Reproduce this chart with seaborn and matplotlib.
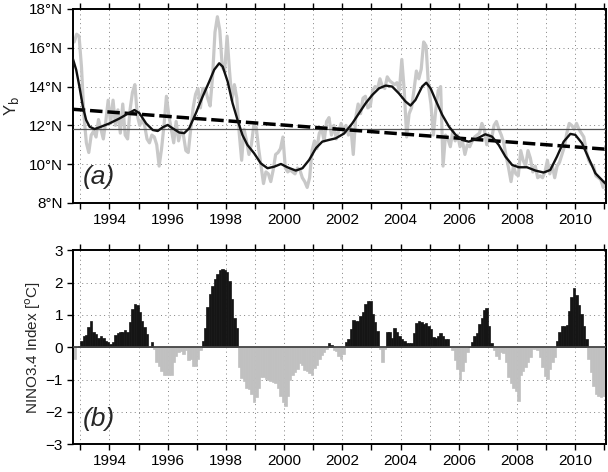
import numpy as np
import pandas as pd
import matplotlib
matplotlib.use("Agg")
import matplotlib.pyplot as plt
from matplotlib.ticker import FixedLocator, FixedFormatter
import seaborn as sns

# ---------------- data ----------------
# Monthly Y_b (deg N), starting Oct 1992
yb_1992 = [16.3, 16.7, 16.6]
yb_1993 = [15.0, 12.5, 11.1, 10.6, 11.5, 11.7, 11.4, 12.3, 11.8, 11.3, 12.2, 13.3]
yb_1994 = [12.1, 13.3, 12.0, 12.8, 11.6, 13.1, 11.5, 11.3, 12.8, 13.7, 14.1, 12.5]
yb_1995 = [12.0, 12.3, 12.0, 11.3, 11.1, 11.5, 11.4, 11.0, 9.9, 10.8, 12.0, 13.5]
yb_1996 = [12.5, 11.8, 11.1, 12.2, 11.2, 11.7, 11.5, 10.7, 10.6, 11.8, 12.9, 13.6]
yb_1997 = [13.9, 12.9, 13.9, 13.9, 13.4, 13.0, 14.5, 16.8, 17.6, 16.9, 15.0, 14.8]
yb_1998 = [16.6, 14.8, 13.3, 14.1, 13.4, 11.6, 10.2, 11.8, 11.2, 10.5, 11.0, 12.0]
yb_1999 = [11.9, 10.8, 9.9, 9.0, 9.6, 9.5, 9.1, 9.7, 10.5, 10.6, 10.8, 11.4]
yb_2000 = [9.8, 9.6, 9.7, 9.6, 9.5, 9.8, 9.7, 9.3, 9.1, 8.8, 9.3, 10.7]
yb_2001 = [11.2, 10.8, 11.6, 11.8, 11.2, 12.2, 12.4, 11.5, 12.0, 11.3, 11.7, 12.1]
yb_2002 = [11.7, 12.0, 11.5, 11.9, 10.5, 12.4, 13.1, 12.6, 13.4, 13.5, 12.9, 13.0]
yb_2003 = [13.8, 14.0, 13.9, 14.4, 14.0, 13.9, 14.5, 14.3, 14.2, 14.1, 14.2, 13.8]
yb_2004 = [15.4, 13.8, 11.4, 12.6, 12.9, 13.8, 14.8, 14.4, 14.9, 16.3, 16.1, 14.0]
yb_2005 = [13.1, 11.5, 12.8, 13.8, 14.0, 9.9, 11.5, 11.3, 10.9, 11.7, 11.2, 11.5]
yb_2006 = [10.9, 11.2, 10.5, 11.0, 10.9, 11.2, 11.4, 11.5, 11.6, 12.1, 11.8, 11.0]
yb_2007 = [11.5, 11.3, 12.0, 12.2, 11.8, 11.5, 11.1, 10.4, 9.8, 9.1, 9.9, 9.5]
yb_2008 = [9.4, 10.7, 10.2, 9.9, 10.7, 10.3, 9.6, 9.9, 9.3, 9.4, 9.3, 9.6]
yb_2009 = [10.2, 9.5, 9.95, 9.3, 9.9, 10.1, 10.5, 10.9, 11.6, 12.1, 12.0, 11.8]
yb_2010 = [12.1, 11.8, 11.6, 11.4, 10.7, 10.2, 10.0, 9.9, 9.4, 9.3, 9.2, 8.8]
yb_2011 = [8.9]
yb_start = 1992.75  # Oct 1992

# Smoothed Y_b
smooth_years = [1992.74, 1992.86, 1992.97, 1993.09, 1993.2, 1993.32, 1993.49, 1993.66,
                1994.0, 1994.34, 1994.63, 1994.86, 1995.03, 1995.26, 1995.49, 1995.66,
                1995.83, 1996.0, 1996.17, 1996.4, 1996.57, 1996.74, 1996.97, 1997.2,
                1997.43, 1997.6, 1997.77, 1997.89, 1998.06, 1998.23, 1998.4, 1998.57,
                1998.74, 1998.97, 1999.2, 1999.43, 1999.66, 1999.89, 2000.11, 2000.4,
                2000.63, 2000.86, 2001.09, 2001.31, 2001.54, 2001.77, 2002.06, 2002.34,
                2002.57, 2002.8, 2003.03, 2003.26, 2003.49, 2003.71, 2003.94, 2004.17,
                2004.34, 2004.51, 2004.74, 2004.88, 2005.03, 2005.2, 2005.43, 2005.66,
                2005.89, 2006.11, 2006.34, 2006.57, 2006.91, 2007.14, 2007.37, 2007.6,
                2007.83, 2008.06, 2008.34, 2008.63, 2008.91, 2009.14, 2009.37, 2009.6,
                2009.83, 2010.0, 2010.23, 2010.46, 2010.69, 2010.91, 2011.03]
smooth_vals = [15.46, 14.86, 14.0, 12.96, 12.28, 11.93, 11.81, 11.9,
               12.1, 12.35, 12.6, 12.79, 12.63, 12.1, 11.76, 11.71,
               11.9, 12.02, 11.85, 11.63, 11.6, 11.85, 12.63, 13.48,
               14.26, 14.87, 15.2, 15.03, 14.26, 13.14, 12.28, 11.5,
               10.99, 10.56, 10.04, 9.79, 9.87, 10.01, 9.84, 9.67,
               9.79, 10.22, 10.82, 11.16, 11.25, 11.33, 11.58, 12.1,
               12.62, 13.14, 13.57, 13.91, 14.05, 14.0, 13.65, 13.23,
               13.02, 13.31, 14.0, 14.2, 13.91, 13.31, 12.54, 11.94,
               11.51, 11.25, 11.16, 11.28, 11.54, 11.42, 10.99, 10.39,
               9.96, 9.84, 9.84, 9.67, 9.57, 9.7, 10.39, 11.16,
               11.56, 11.51, 11.08, 10.3, 9.53, 9.19, 9.0]

trend_years = [1992.74, 2011.06]
trend_vals = [12.83, 10.77]
yb_mean = 11.8

# Monthly NINO3.4 index (deg C), starting Oct 1992
nino_1992 = [-0.36, 0.02, 0.05]
nino_1993 = [0.2, 0.36, 0.38, 0.62, 0.82, 0.46, 0.42, 0.3, 0.34, 0.28, 0.2, 0.15]
nino_1994 = [0.1, 0.17, 0.38, 0.43, 0.46, 0.46, 0.53, 0.46, 0.77, 1.18, 1.34, 1.29]
nino_1995 = [1.08, 0.82, 0.62, 0.41, 0.02, 0.15, -0.05, -0.46, -0.57, -0.72, -0.87, -0.85]
nino_1996 = [-0.85, -0.87, -0.46, -0.26, -0.15, -0.13, -0.2, -0.1, -0.38, -0.36, -0.57, -0.59]
nino_1997 = [-0.36, -0.1, 0.2, 0.6, 1.23, 1.65, 1.9, 2.1, 2.26, 2.4, 2.43, 2.38]
nino_1998 = [2.31, 2.06, 1.5, 0.9, 0.6, -0.6, -0.95, -1.03, -1.25, -1.3, -1.45, -1.7]
nino_1999 = [-1.55, -1.25, -0.93, -0.93, -0.98, -1.0, -1.05, -1.08, -1.1, -1.25, -1.5, -1.7]
nino_2000 = [-1.82, -1.5, -1.0, -0.85, -0.77, -0.67, -0.5, -0.55, -0.7, -0.75, -0.8, -0.87]
nino_2001 = [-0.65, -0.55, -0.35, -0.25, -0.15, -0.05, 0.13, 0.06, -0.08, -0.12, -0.28, -0.36]
nino_2002 = [-0.2, 0.15, 0.26, 0.57, 0.85, 0.82, 0.82, 0.98, 1.1, 1.35, 1.44, 1.44]
nino_2003 = [1.03, 0.77, 0.51, -0.07, -0.46, -0.07, 0.46, 0.46, 0.3, 0.59, 0.46, 0.36]
nino_2004 = [0.24, 0.2, 0.13, 0.13, 0.13, 0.45, 0.75, 0.82, 0.79, 0.72, 0.74, 0.67]
nino_2005 = [0.57, 0.31, 0.28, 0.35, 0.43, 0.35, 0.26, 0.24, 0.0, -0.1, -0.4, -0.67]
nino_2006 = [-1.0, -0.75, -0.46, -0.15, 0.0, 0.15, 0.36, 0.45, 0.72, 0.9, 1.15, 1.2]
nino_2007 = [0.65, 0.12, -0.1, -0.26, -0.36, -0.15, -0.18, -0.46, -0.92, -1.1, -1.25, -1.35]
nino_2008 = [-1.66, -0.85, -0.75, -0.6, -0.45, -0.3, -0.07, -0.07, -0.1, -0.3, -0.6, -0.9]
nino_2009 = [-0.97, -0.66, -0.45, -0.3, 0.2, 0.46, 0.67, 0.67, 0.68, 1.13, 1.54, 1.83]
nino_2010 = [1.6, 1.29, 1.03, 0.67, 0.26, -0.36, -0.77, -1.2, -1.44, -1.5, -1.54, -1.5]
nino_start = 1992.75  # Oct 1992

year_ticks = list(range(1993, 2012))
year_labels = [str(y) if y % 2 == 0 else "" for y in year_ticks]
yb_ticks = [8, 10, 12, 14, 16, 18]
yb_ticklabels = ["8°N", "10°N", "12°N", "14°N", "16°N", "18°N"]
nino_ticks = [-3, -2, -1, 0, 1, 2, 3]

# ---------------- assemble ----------------
yb = np.concatenate([yb_1992, yb_1993, yb_1994, yb_1995, yb_1996, yb_1997, yb_1998,
                     yb_1999, yb_2000, yb_2001, yb_2002, yb_2003, yb_2004, yb_2005,
                     yb_2006, yb_2007, yb_2008, yb_2009, yb_2010, yb_2011])
yb_t = yb_start + (np.arange(len(yb)) + 0.5) / 12.0
df_yb = pd.DataFrame({"t": yb_t, "v": yb})
df_sm = pd.DataFrame({"t": smooth_years, "v": smooth_vals})
df_tr = pd.DataFrame({"t": trend_years, "v": trend_vals})

nino = np.concatenate([nino_1992, nino_1993, nino_1994, nino_1995, nino_1996, nino_1997,
                       nino_1998, nino_1999, nino_2000, nino_2001, nino_2002, nino_2003,
                       nino_2004, nino_2005, nino_2006, nino_2007, nino_2008, nino_2009,
                       nino_2010])
nino_t = nino_start + (np.arange(len(nino)) + 0.5) / 12.0

# ---------------- style ----------------
sns.set_style("white")
plt.rcParams["font.family"] = ["Liberation Sans", "DejaVu Sans"]
plt.rcParams["axes.unicode_minus"] = True

fig = plt.figure(figsize=(6.08, 4.72), dpi=100)
ax1 = fig.add_axes([0.1196, 0.570, 0.8774, 0.411])
ax2 = fig.add_axes([0.1196, 0.0587, 0.8774, 0.4113])

xlim = (1992.74, 2011.06)
grid_kw = dict(color="#808080", lw=0.7, ls=(0, (1, 3.5)), zorder=0)

def style_axes(ax):
    ax.set_xlim(*xlim)
    ax.xaxis.set_major_locator(FixedLocator(year_ticks))
    ax.xaxis.set_major_formatter(FixedFormatter(year_labels))
    ax.tick_params(axis="both", which="major", direction="out", length=4, width=1.0,
                   labelsize=11, colors="black", pad=3)
    ax.tick_params(axis="x", top=True, bottom=True)
    ax.tick_params(axis="y", left=True, right=False)
    for s in ax.spines.values():
        s.set_color("black")
        s.set_linewidth(1.4)
    for y in year_ticks:
        ax.axvline(y, **grid_kw)

# --- top panel ---
style_axes(ax1)
for y in [10, 12, 14, 16]:
    ax1.axhline(y, **grid_kw)
sns.lineplot(data=df_yb, x="t", y="v", ax=ax1, color="#c8c8c8", lw=2.3,
             estimator=None, sort=False, zorder=2)
ax1.axhline(yb_mean, color="#555555", lw=0.9, zorder=3)
sns.lineplot(data=df_tr, x="t", y="v", ax=ax1, color="black", lw=2.5,
             ls=(0, (3.6, 1.4)), estimator=None, zorder=4)
sns.lineplot(data=df_sm, x="t", y="v", ax=ax1, color="#111111", lw=1.7,
             estimator=None, sort=False, zorder=5)
ax1.set_ylim(8, 18)
ax1.set_yticks(yb_ticks)
ax1.set_yticklabels(yb_ticklabels)
ax1.set_xlabel("")
ax1.set_ylabel(r"Y$_\mathrm{b}$", fontsize=12)
ax1.yaxis.set_label_coords(-0.097, 0.5)
ax1.text(0.018, 0.07, "(a)", transform=ax1.transAxes, fontsize=19,
         style="italic", ha="left", va="bottom", zorder=6)

# --- bottom panel ---
style_axes(ax2)
for y in [-2, -1, 1, 2]:
    ax2.axhline(y, **grid_kw)
colors = np.where(nino >= 0, "#151515", "#c0c0c0")
ax2.bar(nino_t, nino, width=1.06 / 12.0, color=colors, edgecolor=colors,
        linewidth=0.5, zorder=2)
ax2.axhline(0, color="#444444", lw=1.3, zorder=3)
ax2.set_ylim(-3, 3)
ax2.set_yticks(nino_ticks)
ax2.set_ylabel(r"NINO3.4 Index [$^\mathrm{o}$C]", fontsize=11)
ax2.yaxis.set_label_coords(-0.056, 0.5)
ax2.text(0.018, 0.07, "(b)", transform=ax2.transAxes, fontsize=19,
         style="italic", ha="left", va="bottom", zorder=6)

fig.savefig("out.png", dpi=100)
